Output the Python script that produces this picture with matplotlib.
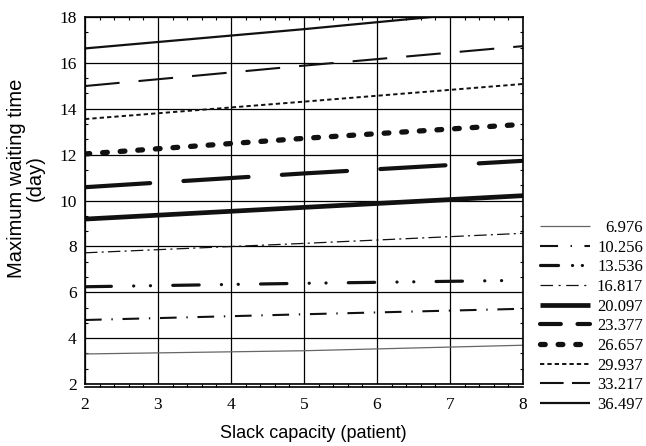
import numpy as np
import matplotlib
matplotlib.use("Agg")
import matplotlib.pyplot as plt
from matplotlib.lines import Line2D
from matplotlib.ticker import MultipleLocator, AutoMinorLocator

plt.rcParams["lines.scale_dashes"] = False

# slack capacity and maximum waiting time for each arrival level
slack = [2, 5, 8]
levels = ["6.976", "10.256", "13.536", "16.817", "20.097",
          "23.377", "26.657", "29.937", "33.217", "36.497"]
wait_6976 = [3.31, 3.45, 3.69]
wait_10256 = [4.79, 5.04, 5.28]
wait_13536 = [6.24, 6.39, 6.52]
wait_16817 = [7.72, 8.13, 8.57]
wait_20097 = [9.19, 9.70, 10.21]
wait_23377 = [10.58, 11.18, 11.73]
wait_26657 = [12.03, 12.71, 13.32]
wait_29937 = [13.55, 14.31, 15.08]
wait_33217 = [14.99, 15.88, 16.73]
wait_36497 = [16.63, 17.47, 18.38]
waits = [wait_6976, wait_10256, wait_13536, wait_16817, wait_20097,
         wait_23377, wait_26657, wait_29937, wait_33217, wait_36497]

# line style per level: width, dash pattern (plot / key), cap, colour
styles = [
    dict(lw=0.9, dashes=None, key=None, cap="butt", color="#666666"),
    dict(lw=1.5, dashes=(12, 7, 1, 7), key=(13, 9, 1, 9), cap="butt", color="#111111"),
    dict(lw=2.3, dashes=(19, 16, 0.1, 12, 0.1, 16), key=(13, 10, 0.1, 7, 0.1, 8),
         cap="round", color="#111111"),
    dict(lw=0.9, dashes=(9, 3, 1.5, 3), key=(9, 4, 1.5, 4), cap="butt", color="#111111"),
    dict(lw=3.4, dashes=None, key=None, cap="butt", color="#111111"),
    dict(lw=3.0, dashes=(47, 24), key=(15, 12), cap="round", color="#111111"),
    dict(lw=3.8, dashes=(3.4, 9.3), key=(3.4, 9.3), cap="round", color="#111111"),
    dict(lw=1.4, dashes=(3.1, 2.2), key=(3.1, 2.2), cap="butt", color="#111111"),
    dict(lw=1.5, dashes=(25, 13.7), key=(17, 6), cap="butt", color="#111111"),
    dict(lw=1.6, dashes=None, key=None, cap="butt", color="#111111"),
]

serif = ["Liberation Serif", "DejaVu Serif"]
sans = ["Liberation Sans", "DejaVu Sans"]

fig = plt.figure(figsize=(6.46, 4.46), dpi=100)
ax = fig.add_axes([85 / 646, 1 - 384 / 446, 438 / 646, 367 / 446])


def style_kw(st, dashes):
    kw = dict(color=st["color"], lw=st["lw"],
              solid_capstyle=st["cap"], dash_capstyle=st["cap"])
    if dashes is not None:
        kw["dashes"] = dashes
    return kw


for w, st in zip(waits, styles):
    ax.plot(slack, w, **style_kw(st, st["dashes"]))

ax.set_xlim(2, 8)
ax.set_ylim(2, 18)

# frame line at the bottom plus the tick axis a little below it
ax.spines["bottom"].set_position(("outward", 2.5))
ax.axhline(2, color="black", lw=1.2, clip_on=False)
for sp in ax.spines.values():
    sp.set_linewidth(1.2)

ax.xaxis.set_major_locator(MultipleLocator(1))
ax.yaxis.set_major_locator(MultipleLocator(2))
ax.xaxis.set_minor_locator(AutoMinorLocator(5))
ax.yaxis.set_minor_locator(AutoMinorLocator(3))
ax.grid(True, which="major", color="black", lw=0.9)
ax.tick_params(which="both", direction="in", top=True, right=True, color="black")
ax.tick_params(which="major", length=0, labelsize=12.5, labelfontfamily=serif)
ax.tick_params(which="minor", length=2.5, width=0.8)
ax.tick_params(axis="x", pad=7)
ax.tick_params(axis="y", pad=6)

ax.set_xlabel("Slack capacity (patient)", fontsize=13, family=sans)
ax.xaxis.set_label_coords(0.522, -0.112)
ax.set_ylabel("Maximum waiting time\n(day)", fontsize=14.5, family=sans,
              linespacing=0.95)
ax.yaxis.set_label_coords(-0.092, 0.56)

# key to the right of the plot, numbers right aligned
row_y = np.linspace(1 - 226 / 446, 1 - 403 / 446, len(levels))
for lab, st, yy in zip(levels, styles, row_y):
    fig.add_artist(Line2D([540 / 646, 590 / 646], [yy, yy],
                          transform=fig.transFigure, **style_kw(st, st["key"])))
    fig.text(643 / 646, yy - 2 / 446, lab, ha="right", va="center",
             fontsize=12, family=serif)

fig.savefig("out.png", dpi=100)
